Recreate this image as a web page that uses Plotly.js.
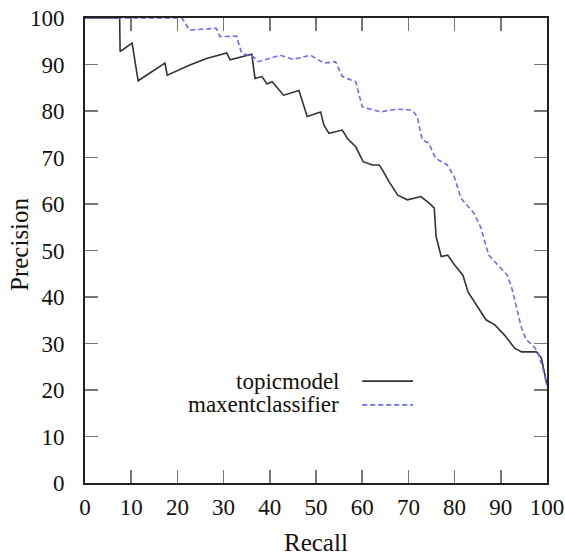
<!DOCTYPE html>
<html>
<head>
<meta charset="utf-8">
<script src="https://cdn.plot.ly/plotly-3.0.1.min.js"></script>
<style>html,body{margin:0;padding:0;background:#fff;}#chart{width:565px;height:555px;}</style>
</head>
<body>
<div id="chart"></div>
<script>
const topicRecall = [0, 7.5, 7.6, 10.2, 11.5, 17.3, 17.8, 22.7, 26.3, 30.7, 31.4, 36.1, 36.8, 38.3, 39.4, 40.5, 43.0, 46.3, 48.1, 51.0, 51.7, 52.8, 55.7, 56.8, 58.6, 60.2, 62.2, 63.7, 64.4, 65.8, 67.7, 69.8, 72.7, 74.5, 75.6, 76.0, 77.1, 78.5, 80.0, 81.8, 82.9, 85.0, 86.8, 88.7, 90.8, 93.0, 94.5, 97.7, 98.8, 100];
const topicPrecision = [100, 100, 92.8, 94.6, 86.5, 90.3, 87.7, 89.9, 91.3, 92.5, 91.0, 92.2, 87.0, 87.4, 85.8, 86.3, 83.4, 84.4, 78.8, 79.8, 77.0, 75.2, 75.9, 74.1, 72.3, 69.1, 68.4, 68.4, 67.3, 64.8, 61.9, 60.9, 61.6, 60.2, 59.1, 53.0, 48.7, 49.0, 46.9, 44.7, 41.1, 37.9, 35.1, 34.0, 31.8, 29.0, 28.2, 28.2, 26.8, 21];

const maxentRecall = [0, 21, 22.6, 28.4, 29.2, 32.8, 33.9, 36.4, 37.5, 42.2, 45.1, 48.8, 51.7, 54.2, 55.7, 58.6, 60.0, 64.0, 67.6, 70.8, 71.9, 73.0, 74.4, 75.9, 78.4, 79.9, 81.4, 84.2, 85.6, 87.4, 91.4, 92.5, 93.0, 94.4, 95.5, 96.9, 98.0, 99.0, 100];
const maxentPrecision = [100, 100, 97.4, 97.8, 96.0, 96.1, 92.4, 91.7, 90.6, 92.0, 91.1, 92.0, 90.3, 90.6, 87.4, 86.3, 80.9, 79.8, 80.4, 80.2, 78.8, 73.8, 73.1, 69.8, 68.4, 65.9, 61.2, 58.0, 55.1, 49.0, 44.7, 41.5, 39.4, 33.6, 30.8, 29.7, 28.2, 25, 21];

const seriesNames = ["topicmodel", "maxentclassifier"];
const xTitle = "Recall";
const yTitle = "Precision";
const xTicks = [0, 10, 20, 30, 40, 50, 60, 70, 80, 90, 100];
const yTicks = [0, 10, 20, 30, 40, 50, 60, 70, 80, 90, 100];

const serif = "'Liberation Serif', 'Times New Roman', serif";
const tickFont = {family: serif, size: 23, color: "#111"};
const titleFont = {family: serif, size: 25, color: "#111"};
const legendFont = {family: serif, size: 23, color: "#111"};
const blackColor = "#333333";
const blueColor = "#6b6bff";

const traces = [
  {x: topicRecall, y: topicPrecision, mode: "lines", name: seriesNames[0],
   line: {color: blackColor, width: 1.6}},
  {x: maxentRecall, y: maxentPrecision, mode: "lines", name: seriesNames[1],
   line: {color: blueColor, width: 1.6, dash: "5px,3px"}}
];

const axisCommon = {
  showline: true, linecolor: "#222", linewidth: 2, mirror: "allticks",
  ticks: "inside", ticklen: 13, tickwidth: 1.5, tickcolor: "#777",
  showgrid: false, zeroline: false, tickfont: tickFont
};

const legX0 = 0.600, legX1 = 0.710, legTextX = 0.555;
const legY = [0.219, 0.168];

const annotations = seriesNames.map((n, i) => ({
  xref: "paper", yref: "paper", x: legTextX, y: legY[i],
  xanchor: "right", yanchor: "middle", text: n, showarrow: false, font: legendFont
}));
annotations.push({xref: "paper", yref: "paper", x: 0.499, y: -0.129, xanchor: "center", yanchor: "middle",
  text: xTitle, showarrow: false, font: titleFont});
annotations.push({xref: "paper", yref: "paper", x: -0.1407, y: 0.514, xanchor: "center", yanchor: "middle",
  text: yTitle, textangle: -90, showarrow: false, font: titleFont});

const layout = {
  width: 565, height: 555,
  margin: {l: 85, r: 18, t: 18, b: 72},
  paper_bgcolor: "#fff", plot_bgcolor: "#fff",
  showlegend: false,
  font: tickFont,
  xaxis: Object.assign({}, axisCommon, {
    range: [0, 100], tickvals: xTicks, ticktext: xTicks.map(String),
    ticklabelstandoff: 2
  }),
  yaxis: Object.assign({}, axisCommon, {
    range: [0, 100], tickvals: yTicks, ticktext: yTicks.map(String),
    ticklabelstandoff: 14
  }),
  annotations: annotations,
  shapes: [
    {type: "line", xref: "paper", yref: "paper", x0: legX0, x1: legX1, y0: legY[0], y1: legY[0],
     line: {color: blackColor, width: 1.6}},
    {type: "line", xref: "paper", yref: "paper", x0: legX0, x1: legX1, y0: legY[1], y1: legY[1],
     line: {color: blueColor, width: 1.6, dash: "5px,3px"}}
  ]
};

Plotly.newPlot("chart", traces, layout, {displayModeBar: false, staticPlot: true});
</script>
</body>
</html>
